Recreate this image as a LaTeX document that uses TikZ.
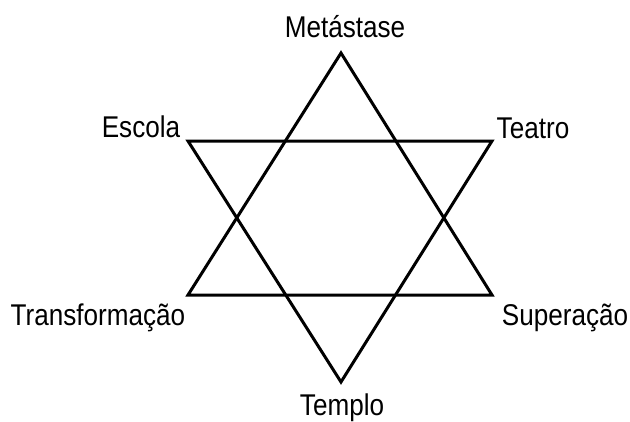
\documentclass[tikz,border=0pt]{standalone}
\usepackage{fontspec}
\setmainfont[FakeStretch=0.87]{Liberation Sans}
\begin{document}
\begin{tikzpicture}[x=1pt,y=-1pt,
  lbl/.style={anchor=base,inner sep=0pt,font=\fontsize{30}{34}\selectfont},
  edge/.style={line width=3pt,line join=miter,black}]
\useasboundingbox[fill=white] (0,0) rectangle (630,421);
\coordinate (T) at (341,53);
\coordinate (UL) at (188,141);
\coordinate (UR) at (492,141);
\coordinate (LL) at (188,295);
\coordinate (LR) at (492,295);
\coordinate (B) at (341,382);
\draw[edge] (T) -- (LR) -- (LL) -- cycle;
\draw[edge] (B) -- (UL) -- (UR) -- cycle;
\node[lbl] (m) at (345,37) {Metástase};
\node[lbl] (e) at (141,137) {Escola};
\node[lbl] (te) at (533,138) {Teatro};
\node[lbl] (tr) at (98,325) {Transformação};
\node[lbl] (s) at (565,325) {Superação};
\node[lbl] (tp) at (342,415) {Templo};
\end{tikzpicture}
\end{document}
